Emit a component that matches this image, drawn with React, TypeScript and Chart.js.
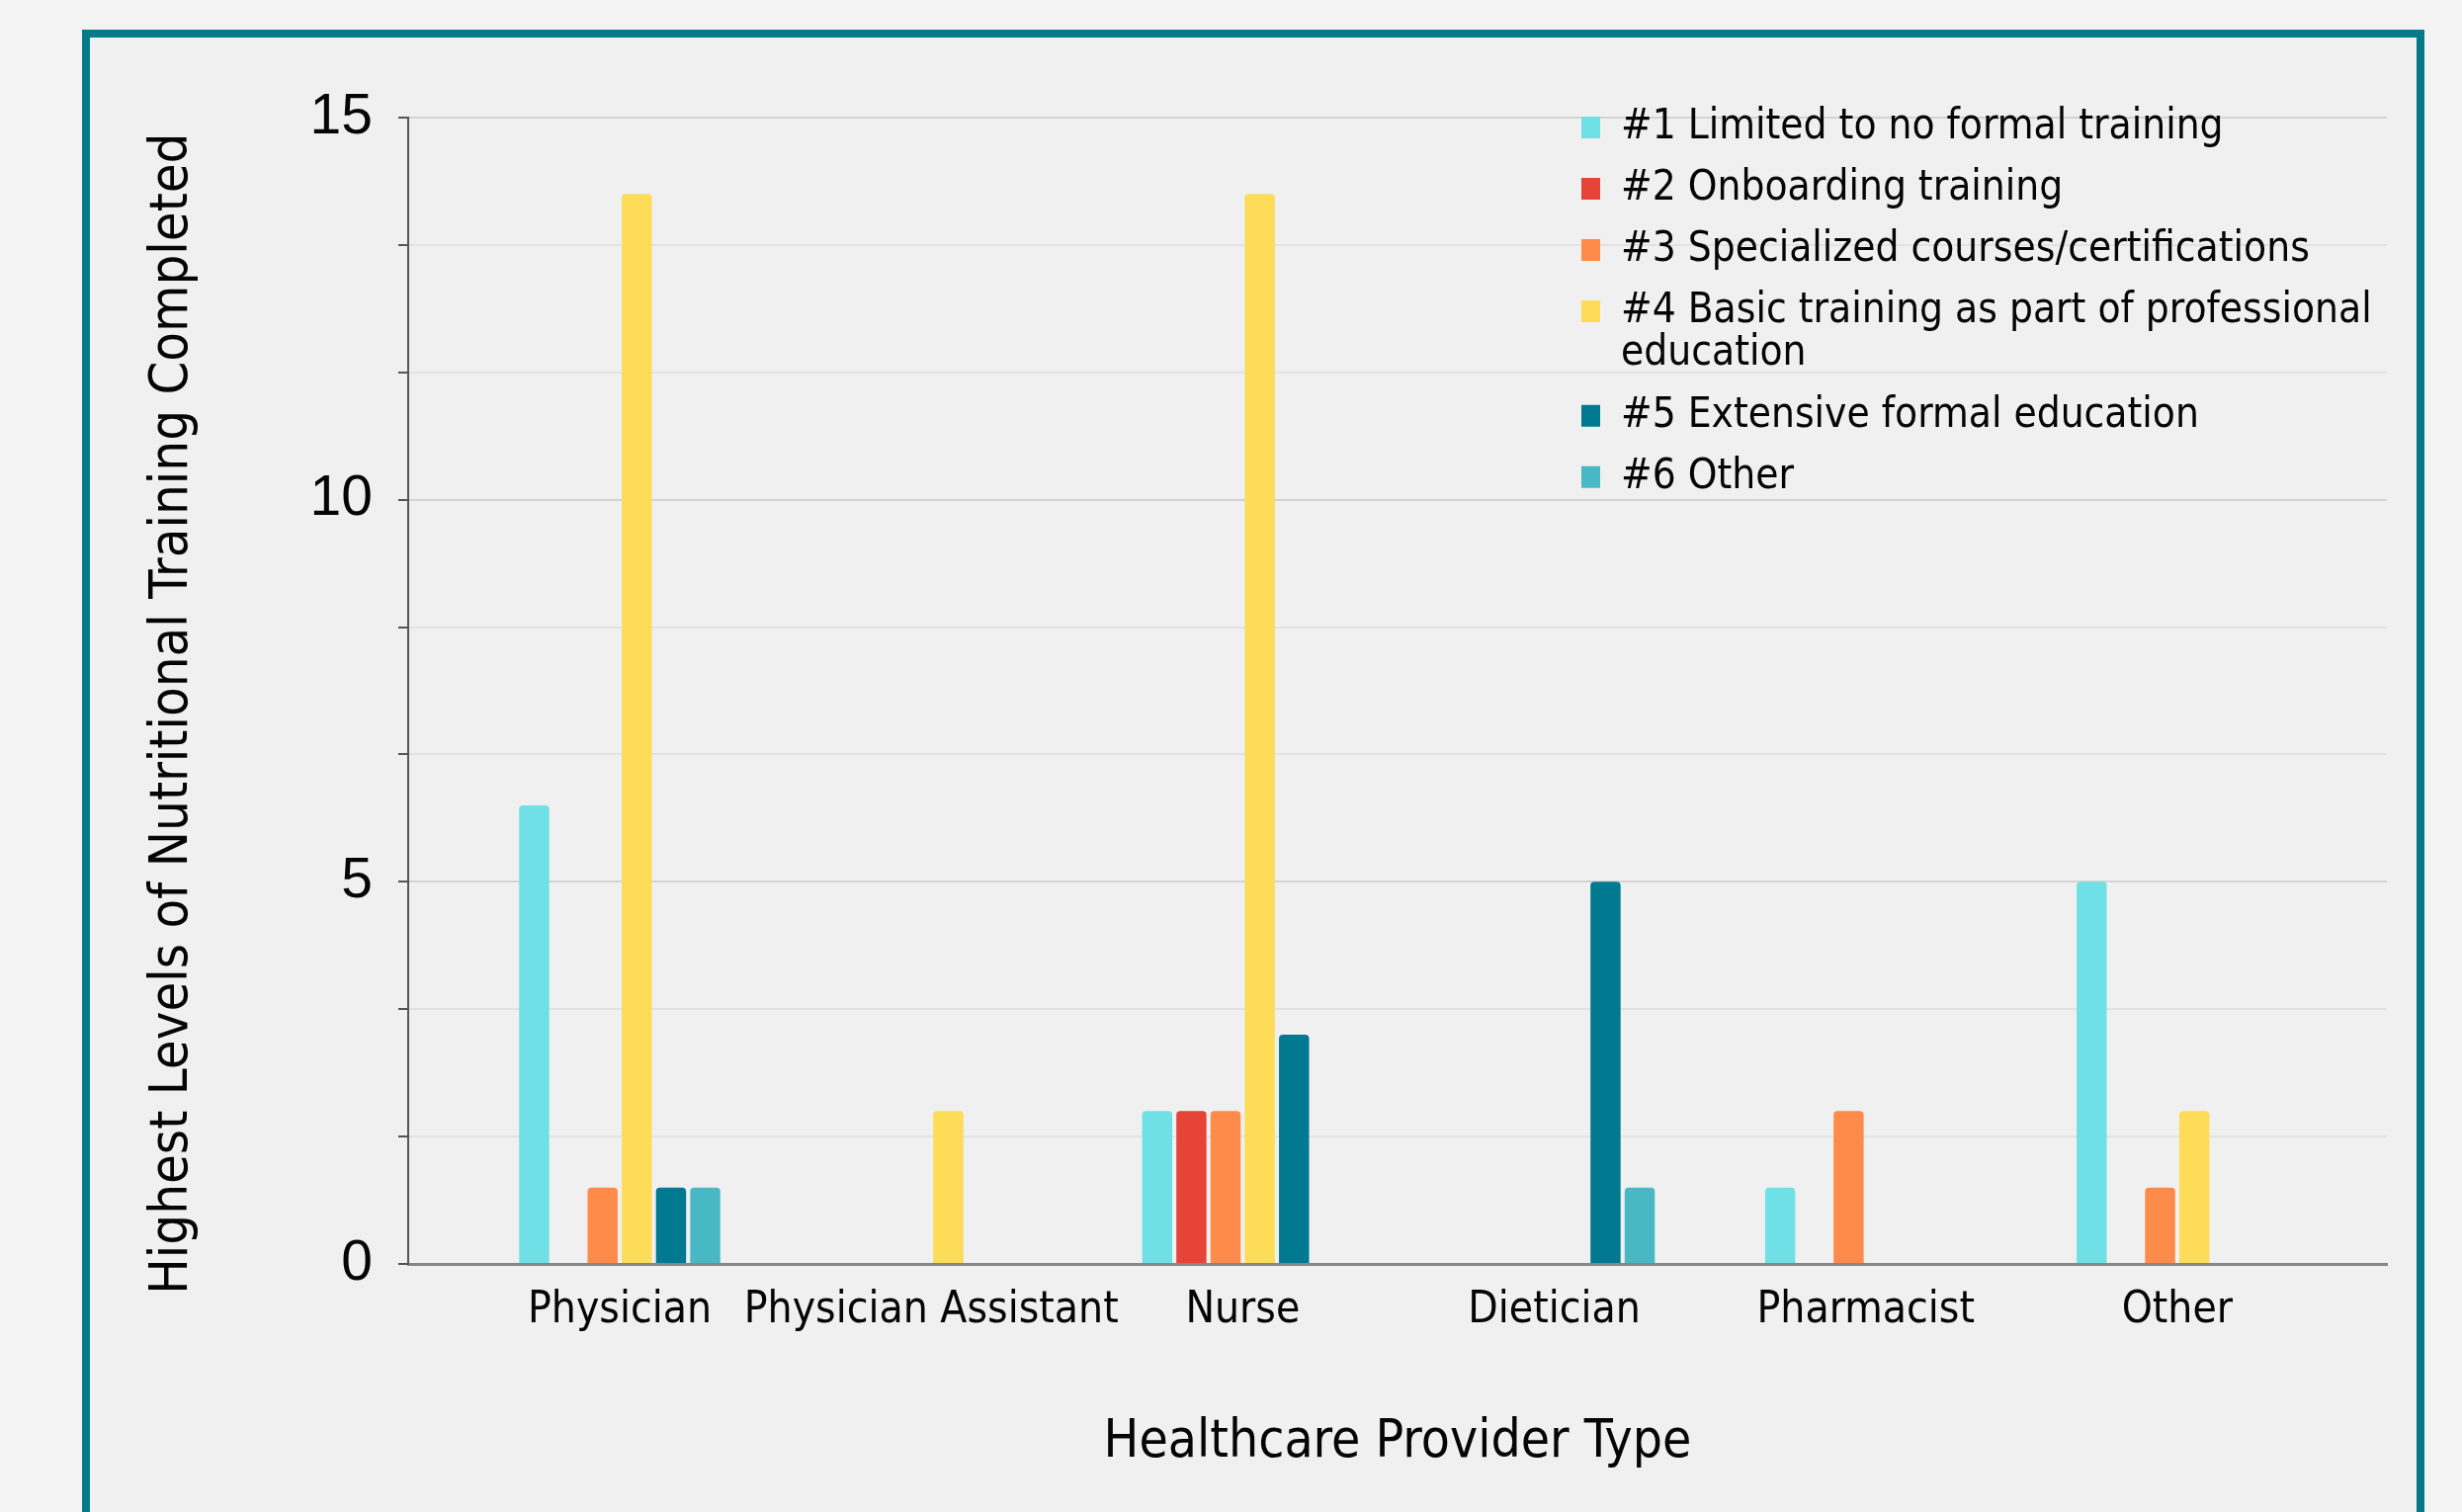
import React, { useEffect, useRef } from 'react';
import { Chart, registerables } from 'chart.js';

Chart.register(...registerables);

// ---- data ----
const CATEGORIES = ['Physician', 'Physician Assistant', 'Nurse', 'Dietician', 'Pharmacist', 'Other'];

const SERIES_LABELS = [
  '#1 Limited to no formal training',
  '#2 Onboarding training',
  '#3 Specialized courses/certifications',
  '#4 Basic training as part of professional\neducation',
  '#5 Extensive formal education',
  '#6 Other',
];

const SERIES_COLORS = ['#6fe1e6', '#e64436', '#fe8b4a', '#fddc58', '#017990', '#48b9c4'];

const LIMITED = [6, 0, 2, 0, 1, 5];
const ONBOARDING = [0, 0, 2, 0, 0, 0];
const SPECIALIZED = [1, 0, 2, 0, 2, 1];
const BASIC = [14, 2, 14, 0, 0, 2];
const EXTENSIVE = [1, 0, 3, 5, 0, 0];
const OTHER_TRAINING = [1, 0, 0, 1, 0, 0];

const SERIES = [LIMITED, ONBOARDING, SPECIALIZED, BASIC, EXTENSIVE, OTHER_TRAINING];

const Y_LABELED_TICKS = [0, 5, 10, 15];
const Y_MINOR_DIVISIONS = 3;

const X_TITLE = 'Healthcare Provider Type';
const Y_TITLE = 'Highest Levels of Nutritional Training Completed';

// ---- style ----
const SANS = "'DejaVu Sans Condensed', 'DejaVu Sans', sans-serif";
const ARIAL = "'Liberation Sans', Arial, sans-serif";
const TEXT = '#050505';

const LEGEND_LEFT = 1580;
const LEGEND_TOP = 88;

const isMajor = (v: number) => Y_LABELED_TICKS.some((t) => Math.abs(t - v) < 1e-6);

const legendPlacer = {
  id: 'legendPlacer',
  afterLayout(chart: any) {
    const lg = chart.legend;
    if (!lg) return;
    const w = lg.width;
    lg.left = LEGEND_LEFT;
    lg.top = LEGEND_TOP;
    lg.right = LEGEND_LEFT + w;
    lg.bottom = chart.chartArea.bottom;
  },
};

export default function App() {
  const ref = useRef<HTMLCanvasElement>(null);

  useEffect(() => {
    const canvas = ref.current;
    if (!canvas) return;

    const datasets = SERIES.map((vals, k) => ({
      label: SERIES_LABELS[k],
      data: vals.map((v, i) => ({ x: i, y: v })),
      backgroundColor: SERIES_COLORS[k],
      borderWidth: 0,
      borderRadius: 4,
      categoryPercentage: 0.659,
      barPercentage: 0.88,
    }));

    const chart = new Chart(canvas, {
      type: 'bar',
      data: { datasets },
      plugins: [legendPlacer],
      options: {
        animation: false,
        responsive: false,
        layout: { padding: { left: 0, top: 119, right: 76, bottom: 0 } },
        plugins: {
          tooltip: { enabled: false },
          legend: {
            position: 'chartArea',
            align: 'start',
            labels: {
              boxWidth: 19,
              boxHeight: 22,
              padding: 20,
              color: TEXT,
              font: { family: SANS, size: 42, lineHeight: 1.02 },
              generateLabels: (c: any) =>
                Chart.defaults.plugins.legend.labels.generateLabels(c).map((item: any) => ({
                  ...item,
                  text:
                    typeof item.text === 'string' && item.text.includes('\n')
                      ? item.text.split('\n')
                      : item.text,
                })),
            },
          },
        },
        scales: {
          x: {
            type: 'linear',
            min: -0.679,
            max: 5.673,
            offset: false,
            grid: { display: false },
            border: { display: true, color: '#868686', width: 3 },
            afterBuildTicks: (s: any) => {
              s.ticks = CATEGORIES.map((_, i) => ({ value: i }));
            },
            afterFit: (s: any) => {
              s.height = 251;
            },
            ticks: {
              autoSkip: false,
              maxRotation: 0,
              minRotation: 0,
              padding: 18,
              color: TEXT,
              font: { family: SANS, size: 44, lineHeight: 1 },
              callback: (v: any) => CATEGORIES[Math.round(Number(v))] ?? '',
            },
            title: {
              display: true,
              text: X_TITLE,
              color: TEXT,
              padding: { top: 0, bottom: 43 },
              font: { family: SANS, size: 53, lineHeight: 1 },
            },
          },
          y: {
            type: 'linear',
            min: 0,
            max: 15,
            afterBuildTicks: (s: any) => {
              const top = Y_LABELED_TICKS[Y_LABELED_TICKS.length - 1];
              const step = (Y_LABELED_TICKS[1] - Y_LABELED_TICKS[0]) / Y_MINOR_DIVISIONS;
              const ticks: any[] = [];
              for (let i = 0; i * step <= top + 1e-9; i++) ticks.push({ value: i * step });
              s.ticks = ticks;
            },
            afterFit: (s: any) => {
              s.width = 413;
            },
            grid: {
              color: (c: any) => (c.tick && isMajor(c.tick.value) ? '#d3d3d3' : '#e2e2e2'),
              lineWidth: 2,
              tickColor: '#555555',
              tickLength: 10,
              tickWidth: 2,
            },
            border: { display: true, color: '#555555', width: 2 },
            ticks: {
              padding: 26,
              color: TEXT,
              font: { family: ARIAL, size: 57 },
              callback: (v: any) => (isMajor(Number(v)) ? String(Math.round(Number(v))) : ''),
            },
            title: {
              display: true,
              text: Y_TITLE + '\u00a0\u00a0\u00a0',
              color: TEXT,
              padding: { top: 148, bottom: 0 },
              font: { family: SANS, size: 54, lineHeight: 1 },
            },
          },
        },
      } as any,
    });

    return () => chart.destroy();
  }, []);

  return (
    <div
      style={{
        position: 'absolute',
        left: 0,
        top: 0,
        width: 2491,
        height: 1530,
        overflow: 'hidden',
        background: '#f3f3f3',
      }}
    >
      <div
        style={{
          position: 'absolute',
          left: 83,
          top: 30,
          width: 2370,
          height: 1620,
          boxSizing: 'border-box',
          border: '8px solid #077a8a',
          background: '#f0f0f0',
        }}
      />
      <canvas
        ref={ref}
        width={2491}
        height={1530}
        style={{ position: 'absolute', left: 0, top: 0, width: 2491, height: 1530 }}
      />
    </div>
  );
}
